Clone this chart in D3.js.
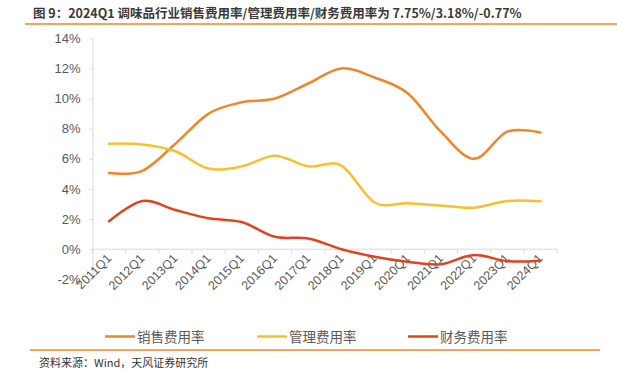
<!DOCTYPE html>
<html><head><meta charset="utf-8">
<script src="https://cdn.jsdelivr.net/npm/d3@7"></script>
<style>
html,body{margin:0;padding:0;background:#fff;}
svg{display:block;}
</style></head>
<body>
<script>
const categories = ["2011Q1","2012Q1","2013Q1","2014Q1","2015Q1","2016Q1","2017Q1","2018Q1","2019Q1","2020Q1","2021Q1","2022Q1","2023Q1","2024Q1"];
const salesRate = [5.05, 5.2, 7.0, 9.0, 9.75, 10.0, 11.0, 12.0, 11.4, 10.35, 7.8, 6.0, 7.8, 7.75];
const adminRate = [7.0, 6.95, 6.5, 5.35, 5.5, 6.2, 5.5, 5.55, 3.1, 3.05, 2.9, 2.75, 3.2, 3.18];
const financeRate = [1.85, 3.2, 2.6, 2.05, 1.8, 0.82, 0.71, 0.0, -0.5, -0.84, -1.0, -0.38, -0.8, -0.77];
const yTicks = [-2, 0, 2, 4, 6, 8, 10, 12, 14];
const seriesNames = ["销售费用率", "管理费用率", "财务费用率"];
const colors = ["#F0862A", "#FCBF2B", "#E0431E"];
const title = "图 9：2024Q1 调味品行业销售费用率/管理费用率/财务费用率为 7.75%/3.18%/-0.77%";
const source = "资料来源：Wind，天风证券研究所";

const W = 617, H = 383;
const svg = d3.select("body").append("svg").attr("width", W).attr("height", H);
const font = "'Liberation Sans', Arial, 'Noto Sans CJK SC', sans-serif";
const cjk = "'Noto Sans CJK SC', 'Liberation Sans', sans-serif";

// header
svg.append("text").attr("x", 33).attr("y", 17.5)
  .attr("font-family", cjk).attr("font-size", 12.5).attr("font-weight", "bold")
  .attr("fill", "#3a3a3a").text(title);
svg.append("line").attr("x1", 25).attr("x2", 617).attr("y1", 24).attr("y2", 24)
  .attr("stroke", "#F0862A").attr("stroke-width", 1.5);

const x = d3.scaleBand().domain(categories).range([92.5, 557]).padding(0);
const y = d3.scaleLinear().domain([-2, 14]).range([279.3, 38.3]);
const cx = c => x(c) + x.bandwidth() / 2;

const axisColor = "#d9d9d9";
const labelColor = "#595959";

// y axis
const yAxis = svg.append("g").attr("transform", "translate(92.5,0)")
  .call(d3.axisLeft(y).tickValues(yTicks).tickFormat(d => d + "%").tickSize(3).tickSizeOuter(0).tickPadding(9));
yAxis.select(".domain").attr("stroke", axisColor);
yAxis.selectAll(".tick line").attr("stroke", axisColor);
yAxis.selectAll(".tick text").attr("fill", labelColor).attr("font-size", 13).attr("font-family", font);

// x axis at 0
const x0 = y(0);
svg.append("line").attr("x1", 92.5).attr("x2", 557).attr("y1", x0).attr("y2", x0)
  .attr("stroke", axisColor).attr("stroke-width", 1);
const bounds = categories.map(c => x(c)).concat([x.range()[1]]);
svg.append("g").selectAll("line").data(bounds).join("line")
  .attr("x1", d => d).attr("x2", d => d).attr("y1", x0).attr("y2", x0 + 4)
  .attr("stroke", axisColor);
svg.append("g").selectAll("text").data(categories).join("text")
  .attr("transform", c => `translate(${cx(c) + 3},${x0 + 10}) rotate(-45)`)
  .attr("text-anchor", "end").attr("font-size", 12.5).attr("font-family", font)
  .attr("fill", labelColor).text(c => c);

// lines
const line = d3.line().x((d, i) => cx(categories[i])).y(d => y(d)).curve(d3.curveCardinal.tension(0));
[salesRate, adminRate, financeRate].forEach((s, k) => {
  svg.append("path").datum(s).attr("d", line).attr("fill", "none")
    .attr("stroke", colors[k]).attr("stroke-width", 2.5).attr("stroke-linecap", "round");
});

// legend
const legX = [105, 257, 408];
seriesNames.forEach((n, k) => {
  svg.append("line").attr("x1", legX[k]).attr("x2", legX[k] + 30).attr("y1", 336.5).attr("y2", 336.5)
    .attr("stroke", colors[k]).attr("stroke-width", 2.5);
  svg.append("text").attr("x", legX[k] + 32).attr("y", 341.5)
    .attr("font-family", cjk).attr("font-size", 13.5).attr("fill", labelColor).text(n);
});

// footer
svg.append("line").attr("x1", 30).attr("x2", 600).attr("y1", 350).attr("y2", 350)
  .attr("stroke", "#F0862A").attr("stroke-width", 1.5);
svg.append("text").attr("x", 39).attr("y", 367)
  .attr("font-family", cjk).attr("font-size", 11).attr("fill", "#333").text(source);
</script>
</body></html>
